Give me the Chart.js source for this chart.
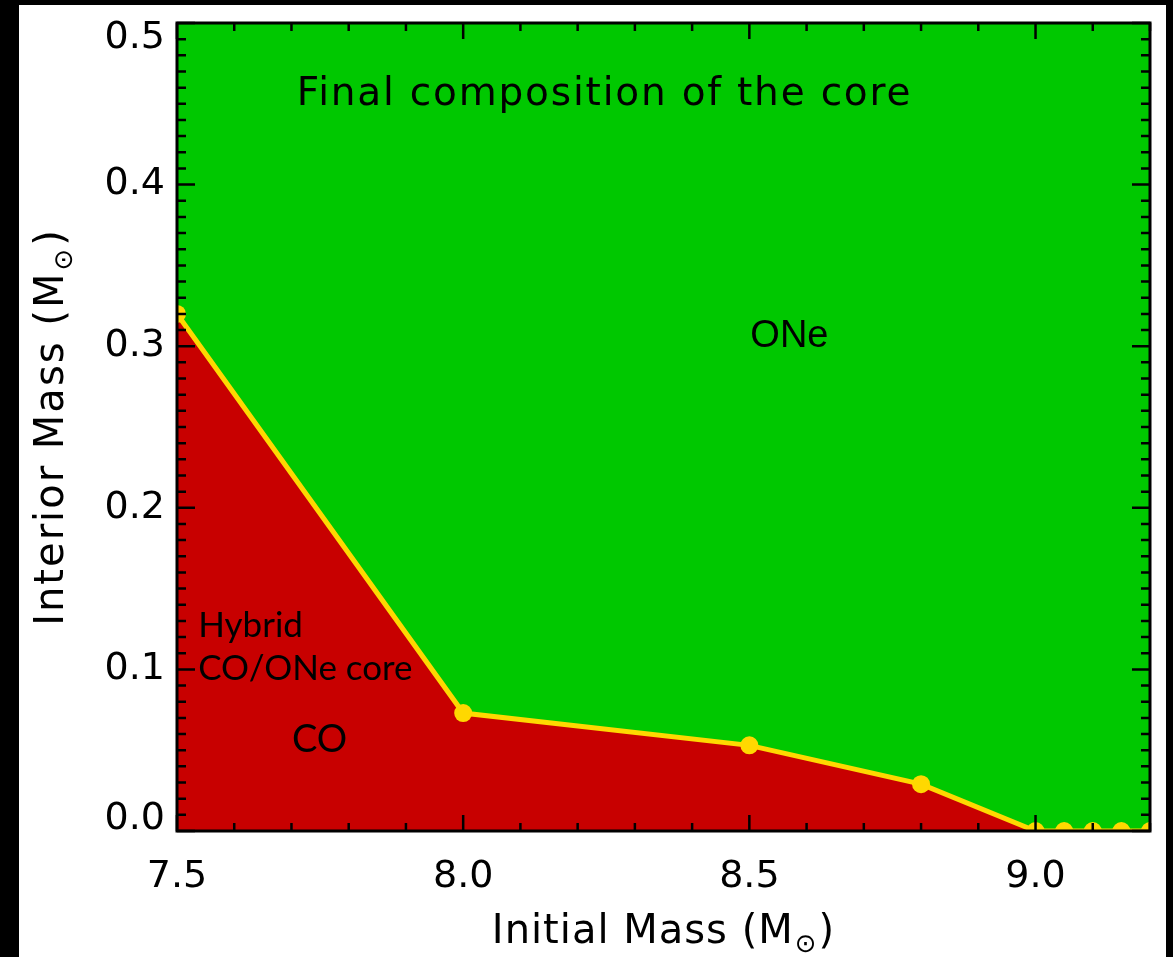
<!DOCTYPE html>
<html>
<head>
<meta charset="utf-8">
<title>Final composition of the core</title>
<script src="https://cdn.jsdelivr.net/npm/chart.js@4.4.1/dist/chart.umd.min.js"></script>
<style>
  html, body { margin: 0; padding: 0; background: #000; }
  #frame { position: absolute; left: 19px; top: 5px; width: 1147px; height: 952px; background: #fff; }
</style>
</head>
<body>
<div id="frame"><canvas id="chart" width="1147" height="952"></canvas></div>
<script>
// values
const initialMass = [7.5, 8.0, 8.5, 8.8, 9.0, 9.05, 9.1, 9.15, 9.2];
const coBoundary  = [0.32, 0.073, 0.053, 0.029, 0.0, 0.0, 0.0, 0.0, 0.0];
const xTicks = [7.5, 8.0, 8.5, 9.0];
const yTicks = [0.0, 0.1, 0.2, 0.3, 0.4, 0.5];

const GREEN = '#00c800';
const RED = '#c80000';
const YELLOW = '#ffd800';

Chart.defaults.font.family = 'DejaVu Sans';
Chart.defaults.color = '#000';

// green fill behind everything = ONe region
const plotBg = {
    id: 'plotBg',
    beforeDatasetsDraw(chart) {
        const { ctx, chartArea: a } = chart;
        ctx.save();
        ctx.fillStyle = GREEN;
        ctx.fillRect(a.left, a.top, a.right - a.left, a.bottom - a.top);
        ctx.restore();
    }
};

// IDL-style box with inward ticks on all four sides
const boxTicks = {
    id: 'boxTicks',
    afterDatasetsDraw(chart) {
        const { ctx, chartArea: a, scales } = chart;
        ctx.save();
        ctx.strokeStyle = '#000';
        ctx.lineWidth = 2.5;
        ctx.beginPath();
        for (let i = 75; i <= 92; i++) {
            const px = scales.x.getPixelForValue(i / 10);
            const len = i % 5 === 0 ? 16 : 8;
            ctx.moveTo(px, a.bottom); ctx.lineTo(px, a.bottom - len);
            ctx.moveTo(px, a.top); ctx.lineTo(px, a.top + len);
        }
        for (let i = 0; i <= 50; i++) {
            const py = scales.y.getPixelForValue(i / 100);
            const len = i % 10 === 0 ? 18 : 9;
            ctx.moveTo(a.left, py); ctx.lineTo(a.left + len, py);
            ctx.moveTo(a.right, py); ctx.lineTo(a.right - len, py);
        }
        ctx.stroke();
        ctx.lineWidth = 3;
        ctx.strokeRect(a.left, a.top, a.right - a.left, a.bottom - a.top);

        // y tick labels: end labels are pulled inside the axis range, like IDL does
        ctx.fillStyle = '#000';
        ctx.font = '38px "DejaVu Sans"';
        ctx.textAlign = 'right';
        ctx.textBaseline = 'middle';
        yTicks.forEach((v, i) => {
            let py = scales.y.getPixelForValue(v);
            if (i === 0) py -= 12;
            if (i === yTicks.length - 1) py += 15;
            ctx.fillText(v.toFixed(1), a.left - 12, py);
        });
        ctx.restore();
    }
};

// text with a subscript sun symbol, centred on x
function massLabel(ctx, text, x, y, spacing) {
    ctx.letterSpacing = spacing + 'px';
    ctx.font = '40px "DejaVu Sans"';
    ctx.textAlign = 'left';
    ctx.textBaseline = 'alphabetic';
    const w1 = ctx.measureText(text).width;
    ctx.font = '26px "DejaVu Sans"';
    const w2 = ctx.measureText('\u2299').width;
    ctx.font = '40px "DejaVu Sans"';
    const w3 = ctx.measureText(')').width;
    const start = x - (w1 + w2 + 2 + w3) / 2;
    ctx.fillText(text, start, y);
    ctx.font = '26px "DejaVu Sans"';
    ctx.fillText('\u2299', start + w1 + 1, y + 9);
    ctx.font = '40px "DejaVu Sans"';
    ctx.fillText(')', start + w1 + w2 + 2, y);
    ctx.letterSpacing = '0px';
}

const notes = {
    id: 'notes',
    afterDraw(chart) {
        const { ctx, chartArea: a, scales } = chart;
        const X = v => scales.x.getPixelForValue(v);
        const Y = v => scales.y.getPixelForValue(v);
        ctx.save();
        ctx.fillStyle = '#000';
        ctx.textBaseline = 'alphabetic';

        ctx.font = '39px "DejaVu Sans"';
        ctx.letterSpacing = '1.8px';
        ctx.textAlign = 'center';
        ctx.fillText('Final composition of the core', X(8.247), Y(0.449));
        ctx.letterSpacing = '0px';

        ctx.font = '38px "Liberation Sans"';
        ctx.fillText('ONe', X(8.57), Y(0.2995));

        ctx.font = '38px Lato';
        ctx.fillText('CO', X(7.749), Y(0.0489));

        ctx.font = '35px Lato';
        ctx.textAlign = 'left';
        ctx.fillText('Hybrid', X(7.537), Y(0.12));
        ctx.fillText('CO/ONe core', X(7.537), Y(0.0934));

        // axis titles
        massLabel(ctx, 'Initial Mass (M', (a.left + a.right) / 2, 938, 1);
        ctx.translate(44, (a.top + a.bottom) / 2);
        ctx.rotate(-Math.PI / 2);
        massLabel(ctx, 'Interior Mass (M', 0, 0, 2);
        ctx.restore();
    }
};

new Chart(document.getElementById('chart'), {
    type: 'line',
    data: {
        datasets: [{
            data: initialMass.map((m, i) => ({ x: m, y: coBoundary[i] })),
            borderColor: YELLOW,
            borderWidth: 5,
            backgroundColor: RED,
            fill: 'origin',
            tension: 0,
            pointRadius: 9,
            pointBorderWidth: 0,
            pointBackgroundColor: YELLOW,
            clip: 0
        }]
    },
    options: {
        responsive: false,
        animation: false,
        layout: { padding: { top: 18, right: 16, left: 0, bottom: 0 } },
        plugins: { legend: { display: false }, tooltip: { enabled: false } },
        scales: {
            x: {
                type: 'linear', min: 7.5, max: 9.2,
                grid: { display: false, drawTicks: false },
                border: { display: false },
                afterBuildTicks: s => { s.ticks = xTicks.map(v => ({ value: v })); },
                afterFit: s => { s.height = 126; s.paddingLeft = 0; s.paddingRight = 0; },
                ticks: { padding: 27, maxRotation: 0, autoSkip: false, font: { size: 38, lineHeight: 1 },
                         callback: v => v.toFixed(1) }
            },
            y: {
                type: 'linear', min: 0, max: 0.5,
                grid: { display: false, drawTicks: false },
                border: { display: false },
                afterBuildTicks: s => { s.ticks = yTicks.map(v => ({ value: v })); },
                afterFit: s => { s.width = 158; s.paddingTop = 0; s.paddingBottom = 0; },
                ticks: { display: false }
            }
        }
    },
    plugins: [plotBg, boxTicks, notes]
});
</script>
</body>
</html>
